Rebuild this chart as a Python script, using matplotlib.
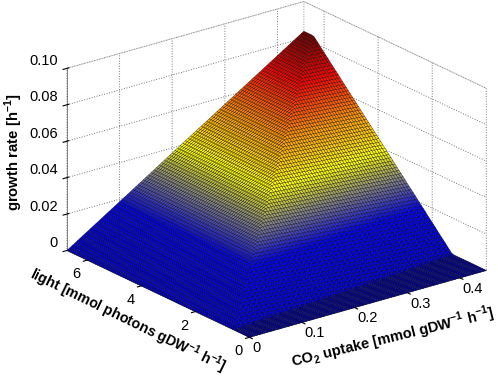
import numpy as np
import matplotlib
matplotlib.use('Agg')
import matplotlib.pyplot as plt
from matplotlib.colors import LinearSegmentedColormap, Normalize

# growth rate read along the far left edge of the surface (light saturated), one value per co2 step
co2_limit = [0, .00093, .00186, .00279, .00372, .00465, .00558, .00651, .00744, .00837,
             .0093, .01023, .01116, .01209, .01302, .01395, .01488, .01581, .01674, .01767,
             .0186, .01953, .02046, .02139, .02232, .02325, .02418, .02511, .02604, .02697,
             .0279, .02883, .02976, .03069, .03162, .03255, .03348, .03441, .03534, .03627,
             .0372, .03813, .03906, .03999, .04092, .04185, .04278, .04371, .04464, .04557,
             .0465, .04743, .04836, .04929, .05022, .05115, .05208, .05301, .05394, .05487,
             .0558, .05673, .05766, .05859, .05952, .06045, .06138, .06231, .06324, .06417,
             .0651, .06603, .06696, .06789, .06882, .06975, .07068, .07161, .07254, .07347,
             .0744, .07533, .07626, .07719, .07812, .07905, .07998, .08091, .08184, .08277,
             .0837]
# light limited growth along the light axis, one value per light step
light_limit = [-.0098, -.0085, -.0073, -.0061, -.0049, -.0037, -.0024, -.0012, 0, .0012,
               .0024, .0037, .0049, .0061, .0073, .0086, .0098, .0110, .0122, .0134,
               .0147, .0159, .0171, .0183, .0195, .0208, .0220, .0232, .0244, .0256,
               .0269, .0281, .0293, .0305, .0317, .0330, .0342, .0354, .0366, .0378,
               .0391, .0403, .0415, .0427, .0439, .0452, .0464, .0476, .0488, .0500,
               .0513, .0525, .0537, .0549, .0562, .0574, .0586, .0598, .0610, .0623,
               .0635, .0647, .0659, .0671, .0684, .0696, .0708, .0720, .0732, .0745,
               .0757, .0769, .0781, .0794, .0806, .0818, .0830, .0842, .0855, .0867,
               .0879, .0891, .0903, .0916, .0928, .0940, .0952, .0965, .0977, .0989,
               .1001]
# loss of the light limited growth as co2 goes up, one value per co2 step
co2_loss = [0, .0001, .0002, .0004, .0005, .0006, .0007, .0008, .0009, .0011,
            .0012, .0013, .0014, .0015, .0017, .0018, .0019, .0020, .0021, .0022,
            .0024, .0025, .0026, .0027, .0028, .0030, .0031, .0032, .0033, .0034,
            .0035, .0037, .0038, .0039, .0040, .0041, .0042, .0044, .0045, .0046,
            .0047, .0048, .0050, .0051, .0052, .0053, .0054, .0055, .0057, .0058,
            .0059, .0060, .0061, .0063, .0064, .0065, .0066, .0067, .0068, .0070,
            .0071, .0072, .0073, .0074, .0076, .0077, .0078, .0079, .0080, .0081,
            .0083, .0084, .0085, .0086, .0087, .0089, .0090, .0091, .0092, .0093,
            .0094, .0096, .0097, .0098, .0099, .0100, .0101, .0103, .0104, .0105,
            .0106]

co2_max = 0.45
light_max = 6.75
co2_ticks = [0, 0.1, 0.2, 0.3, 0.4]
co2_ticklabels = ['0', '0.1', '0.2', '0.3', '0.4']
light_ticks = [0, 2, 4, 6]
light_ticklabels = ['0', '2', '4', '6']
growth_ticks = [0, 0.02, 0.04, 0.06, 0.08, 0.10]
growth_ticklabels = ['0', '0.02', '0.04', '0.06', '0.08', '0.10']

plt.rcParams['font.family'] = ['Liberation Sans', 'DejaVu Sans']
plt.rcParams['mathtext.fontset'] = 'custom'
plt.rcParams['mathtext.rm'] = 'Liberation Sans:bold'
plt.rcParams['mathtext.bf'] = 'Liberation Sans:bold'

# colours against growth rate
zmax = 0.0837
stops = [(0, (0, 0, .72)), (.0008, (0, 0, .85)), (.018, (0, 0, .95)), (.03, (.55, .55, .5)),
         (.04, (1, 1, 0)), (.054, (1, .6, 0)), (.07, (1, 0, 0)), (zmax, (.45, 0, 0))]
cmap = LinearSegmentedColormap.from_list('growth', [(v / zmax, c) for v, c in stops], N=512)

co2 = np.linspace(0, co2_max, len(co2_limit))
light = np.linspace(0, light_max, len(light_limit))
X, Y = np.meshgrid(co2, light, indexing='ij')
Z = np.minimum(np.array(co2_limit)[:, None], np.array(light_limit)[None, :] - np.array(co2_loss)[:, None])
Z = np.clip(Z, 0, None)

fig = plt.figure(figsize=(4.98, 3.77), dpi=100)
ax = fig.add_axes([22.5 / 498, 14 / 377, 1, 1], projection='3d', proj_type='ortho')
ax.view_init(elev=21.5, azim=-127.6)
ax.set_box_aspect((301.6, 301.6, 197.4), zoom=1.2)
ax.patch.set_alpha(0)

surf = ax.plot_surface(X, Y, Z, rstride=1, cstride=1, cmap=cmap, norm=Normalize(0, zmax),
                       edgecolor='k', linewidth=0.22, antialiased=True, shade=False)
surf.set_clip_on(False)

ax.set_xlim(0, co2_max, view_margin=0)
ax.set_ylim(0, light_max, view_margin=0)
ax.set_zlim(0, 0.10, view_margin=0)
ax.set_xticks(co2_ticks, co2_ticklabels)
ax.set_yticks(light_ticks, light_ticklabels)
ax.set_zticks(growth_ticks, growth_ticklabels)
ax.tick_params(axis='x', labelsize=10.5, pad=-6)
ax.tick_params(axis='y', labelsize=10.5, pad=-4)
ax.tick_params(axis='z', labelsize=10.5, pad=-5)
for t in ax.get_xticklabels():
    t.set_ha('left')
for t in ax.get_yticklabels():
    t.set_ha('right')
for t in ax.get_zticklabels():
    t.set_ha('right')
    t.set_va('bottom')

for axis in (ax.xaxis, ax.yaxis, ax.zaxis):
    axis._axinfo['grid'].update(linestyle=':', color='#777777', linewidth=0.7)
    axis.pane.set_facecolor('white')
    axis.pane.set_edgecolor('#777777')
    axis.pane.set_linestyle(':')
    axis.pane.set_linewidth(0.7)
    axis.line.set_color('#555555')
    axis.line.set_linewidth(0.5)
    axis.line.set_clip_on(False)

fig.text(128 / 498, 1 - 320.5 / 377, r'light [mmol photons gDW$^{-1}$ h$^{-1}$]', rotation=-26,
         rotation_mode='anchor', ha='center', va='center', fontsize=10.3, fontweight='bold')
fig.text(393 / 498, 1 - 338 / 377, r'CO$_2$ uptake [mmol gDW$^{-1}$ h$^{-1}$]', rotation=13.7,
         rotation_mode='anchor', ha='center', va='center', fontsize=10.5, fontweight='bold')
fig.text(14 / 498, 1 - 152 / 377, r'growth rate [h$^{-1}$]', rotation=90,
         ha='center', va='center', fontsize=10.7, fontweight='bold')

fig.savefig('out.png', dpi=100)
